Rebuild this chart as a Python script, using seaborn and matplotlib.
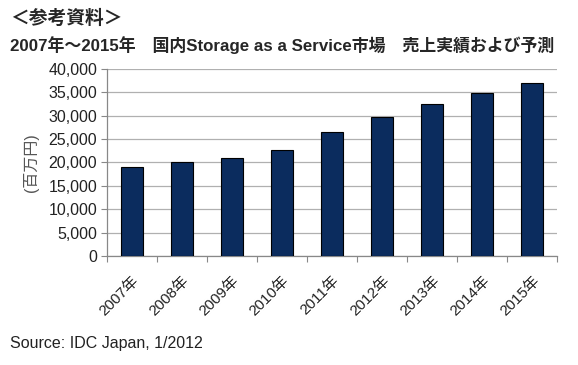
import numpy as np
import pandas as pd
import matplotlib
matplotlib.use('Agg')
import matplotlib.pyplot as plt
import seaborn as sns

# ── data ──
years = ['2007年', '2008年', '2009年', '2010年', '2011年', '2012年', '2013年', '2014年', '2015年']
sales = [19000, 20000, 21000, 22700, 26600, 29800, 32500, 34800, 36900]
yticks = [0, 5000, 10000, 15000, 20000, 25000, 30000, 35000, 40000]

df = pd.DataFrame({'year': years, 'sales': sales})

sns.set_theme(style='white')
plt.rcParams['font.family'] = ['Liberation Sans', 'Noto Sans CJK JP', 'DejaVu Sans']

fig = plt.figure(figsize=(5.78, 3.65), dpi=100)
ax = fig.add_axes([0.185, 0.299, 0.779, 0.512])

sns.barplot(data=df, x='year', y='sales', color='#0b2c5e', width=0.43,
            edgecolor='black', linewidth=0.8, saturation=1, ax=ax, zorder=3)

ax.set_ylim(0, 40000)
ax.set_xlim(-0.5, len(years) - 0.5)
ax.set_yticks(yticks)
ax.set_yticklabels([f'{v:,}' for v in yticks], fontsize=11.5, color='#222222')
ax.yaxis.grid(True, color='#b0b0b0', linewidth=0.9, zorder=0)
ax.tick_params(axis='y', left=True, length=4, width=0.8, color='#888888', pad=3)

# ticks on category boundaries
ax.set_xticks(np.arange(len(years)))
ax.set_xticklabels(years, rotation=45, ha='right', rotation_mode='anchor', fontsize=11, color='#222222')
ax.tick_params(axis='x', bottom=False, pad=7)
ax.set_xticks(np.arange(-0.5, len(years), 1), minor=True)
ax.tick_params(axis='x', which='minor', bottom=True, length=4, width=0.8, color='#888888')

for s in ['top', 'right']:
    ax.spines[s].set_visible(False)
for s in ['left', 'bottom']:
    ax.spines[s].set_color('#888888')
    ax.spines[s].set_linewidth(0.9)

ax.set_xlabel('')
ax.set_ylabel('(百万円)', fontsize=11.5, color='#555555', labelpad=7)

fig.text(0.017, 0.95, '＜参考資料＞', fontsize=13.5, fontweight='bold', ha='left', va='center',
         family=['Noto Sans CJK JP'])
fig.text(0.017, 0.877, '2007年～2015年　国内Storage as a Service市場　売上実績および予測',
         fontsize=12.2, fontweight='bold', ha='left', va='center',
         family=['Liberation Sans', 'Noto Sans CJK JP'])
fig.text(0.017, 0.06, 'Source: IDC Japan, 1/2012', fontsize=11.5, ha='left', va='center', color='#222222')

plt.savefig('out.png', dpi=100)
